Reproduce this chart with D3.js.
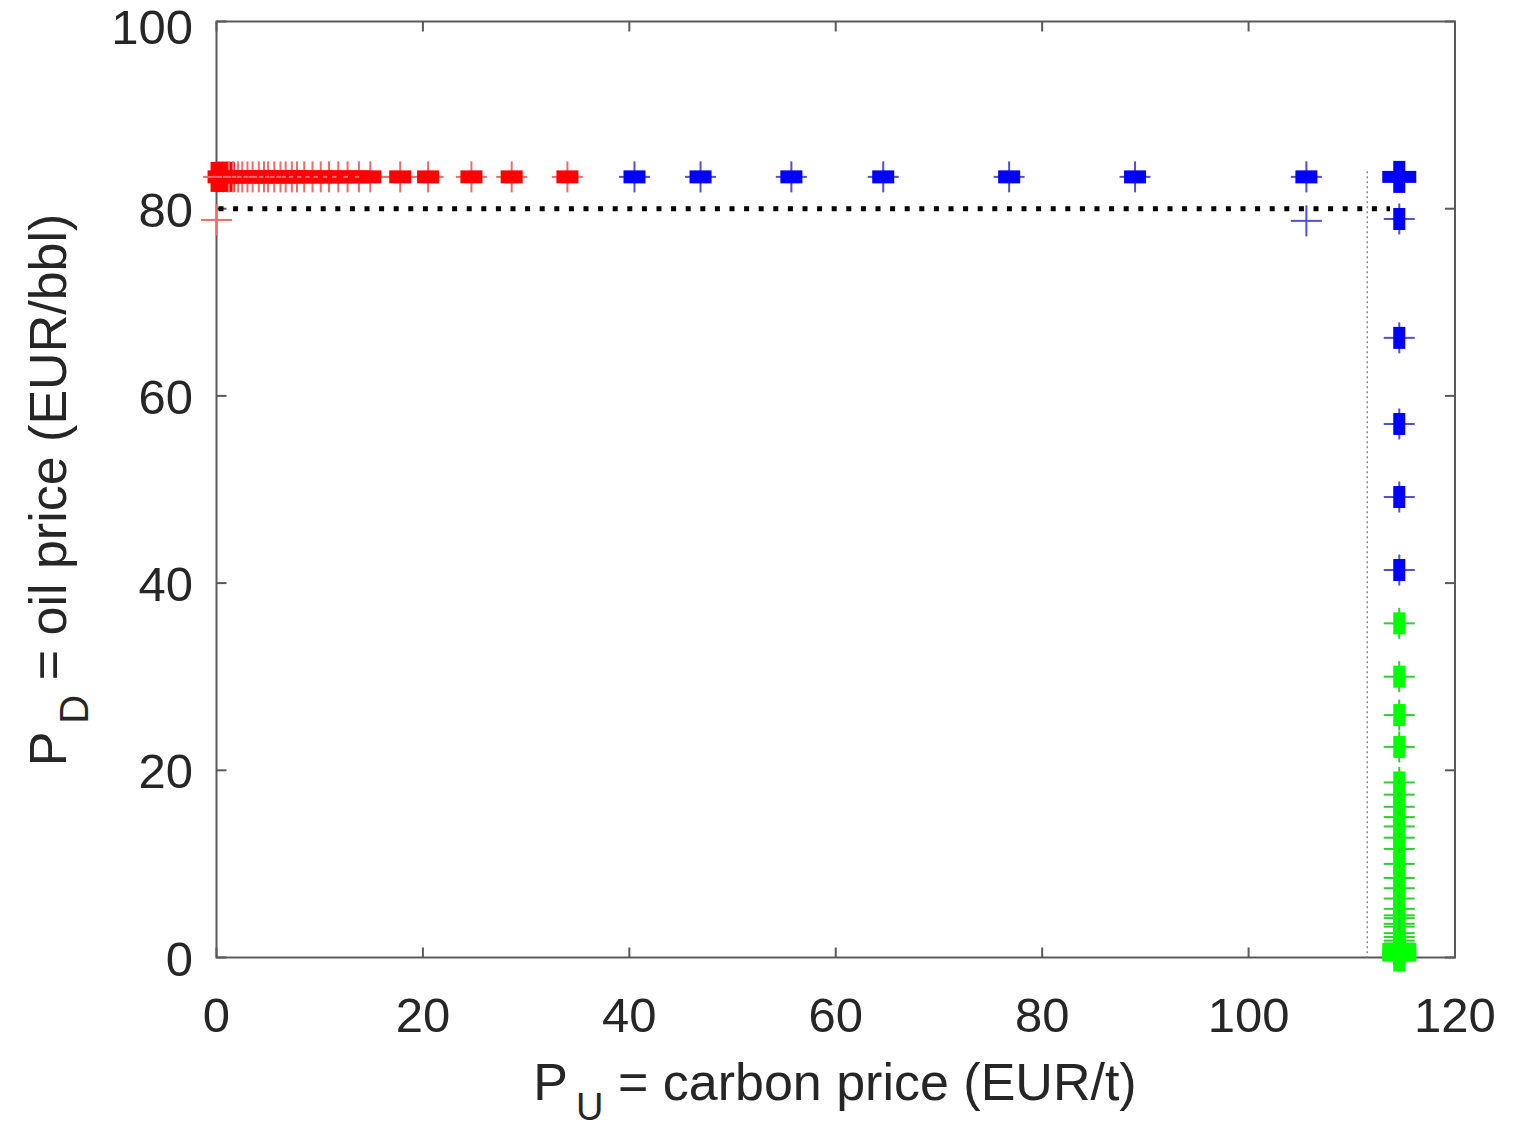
<!DOCTYPE html>
<html>
<head>
<meta charset="utf-8">
<script src="https://cdn.jsdelivr.net/npm/d3@7"></script>
<style>
  body { margin: 0; background: #fff; }
  text { font-family: "Liberation Sans", Arial, sans-serif; fill: #262626; }
</style>
</head>
<body>
<div id="chart"></div>
<script>
// red run along the top (y fixed), x values
var redY = 83.4
var redCluster = [0.2, 0.6, 1.0]
var redX = [1.2, 1.6, 2.1, 2.5, 3.0, 3.5, 4.1, 4.6, 5.0, 5.6, 6.2, 6.7, 7.3, 7.8, 8.5, 9.3, 10.1, 10.9, 11.8, 12.7, 13.8, 14.9, 17.8, 20.5, 24.7, 28.6, 34.0]
var redThin = [[0, 78.8]]

// blue run along the top then down the right side
var blueTopX = [40.5, 46.9, 55.7, 64.6, 76.8, 89.0, 105.6]
var blueColX = 114.6
var blueColY = [78.9, 66.2, 57.0, 49.2, 41.4]
var blueBig = [[114.6, 83.4]]
var blueThin = [[105.6, 78.7]]

// green run down the right side (x fixed), y values
var greenX = 114.6
var greenY = [35.7, 30.0, 25.9, 22.5, 18.7, 17.4, 16.1, 15.0, 14.0, 12.8, 11.6, 10.0, 8.5, 7.4, 6.3, 5.2, 4.5, 4.2, 3.6, 3.3, 2.6, 2.2, 1.8, 1.5, 1.1, 0.8, 0.5, 0.2]
var greenBig = [[114.6, 0.9], [114.6, 0.2]]

// reference lines
var oilRef = 80, oilRefEnd = 113.7
var carbonRef = 111.5, carbonRefTop = 84

var xTicks = [0, 20, 40, 60, 80, 100, 120]
var yTicks = [0, 20, 40, 60, 80, 100]

var width = 1521, height = 1133
var margin = {left: 216.5, right: 1455, top: 21.5, bottom: 957.5}

var svg = d3.select('#chart').append('svg')
  .attr('width', width).attr('height', height)

var x = d3.scaleLinear().domain([0, 120]).range([margin.left, margin.right])
var y = d3.scaleLinear().domain([0, 100]).range([margin.bottom, margin.top])

var colors = {red: '#ff0000', blue: '#0000ff', green: '#00ff00'}
var thinColors = {red: '#f06a6a', blue: '#5050d0', green: '#30cc30'}

// marker: thin plus + thick bar along the run direction
function plus(g, px, py, color, kind) {
  var c = colors[color], tc = thinColors[color]
  var arm = 15.5
  g.append('line').attr('x1', px - arm).attr('x2', px + arm).attr('y1', py).attr('y2', py)
    .attr('stroke', tc).attr('stroke-width', 2)
  g.append('line').attr('x1', px).attr('x2', px).attr('y1', py - arm).attr('y2', py + arm)
    .attr('stroke', tc).attr('stroke-width', 2)
  if (kind === 'h') {
    g.append('rect').attr('x', px - 11).attr('y', py - 6.5).attr('width', 22).attr('height', 13).attr('fill', c)
  } else if (kind === 'v') {
    g.append('rect').attr('x', px - 6).attr('y', py - 11).attr('width', 12).attr('height', 22).attr('fill', c)
  } else if (kind === 'cluster') {
    g.append('rect').attr('x', px - 8).attr('y', py - 15).attr('width', 16).attr('height', 30).attr('fill', c)
    g.append('rect').attr('x', px - 11).attr('y', py - 6.5).attr('width', 22).attr('height', 13).attr('fill', c)
  } else if (kind === 'big') {
    g.append('rect').attr('x', px - 17).attr('y', py - 6).attr('width', 34).attr('height', 12).attr('fill', c)
    g.append('rect').attr('x', px - 6).attr('y', py - 16).attr('width', 12).attr('height', 32).attr('fill', c)
  }
}

// axes box
var axisColor = '#5a5a5a'
svg.append('rect')
  .attr('x', margin.left).attr('y', margin.top)
  .attr('width', margin.right - margin.left).attr('height', margin.bottom - margin.top)
  .attr('fill', 'none').attr('stroke', axisColor).attr('stroke-width', 2)

var tickLen = 10
xTicks.forEach(t => {
  svg.append('line').attr('x1', x(t)).attr('x2', x(t)).attr('y1', margin.bottom).attr('y2', margin.bottom - tickLen)
    .attr('stroke', axisColor).attr('stroke-width', 2)
  svg.append('line').attr('x1', x(t)).attr('x2', x(t)).attr('y1', margin.top).attr('y2', margin.top + tickLen)
    .attr('stroke', axisColor).attr('stroke-width', 2)
  svg.append('text').attr('x', x(t)).attr('y', 1032).attr('text-anchor', 'middle')
    .style('font-size', '49px').text(t)
})
yTicks.forEach(t => {
  svg.append('text').attr('x', 193).attr('y', Math.max(y(t), 26) + 18).attr('text-anchor', 'end')
    .style('font-size', '49px').text(t)
  svg.append('line').attr('x1', margin.left).attr('x2', margin.left + tickLen).attr('y1', y(t)).attr('y2', y(t))
    .attr('stroke', axisColor).attr('stroke-width', 2)
  svg.append('line').attr('x1', margin.right).attr('x2', margin.right - tickLen).attr('y1', y(t)).attr('y2', y(t))
    .attr('stroke', axisColor).attr('stroke-width', 2)
})

// reference lines
svg.append('line')
  .attr('x1', x(carbonRef)).attr('x2', x(carbonRef)).attr('y1', y(carbonRefTop)).attr('y2', y(0))
  .attr('stroke', '#888').attr('stroke-width', 1.5).attr('stroke-dasharray', '2 3')
svg.append('line')
  .attr('x1', x(0) + 2).attr('x2', x(oilRefEnd)).attr('y1', y(oilRef)).attr('y2', y(oilRef))
  .attr('stroke', '#000').attr('stroke-width', 5).attr('stroke-dasharray', '5 9.6')

var g = svg.append('g')

redThin.forEach(d => plus(g, x(d[0]), y(d[1]), 'red', 'thin'))
blueThin.forEach(d => plus(g, x(d[0]), y(d[1]), 'blue', 'thin'))

redCluster.forEach(d => plus(g, x(d), y(redY), 'red', 'cluster'))
redX.forEach(d => plus(g, x(d), y(redY), 'red', 'h'))
blueTopX.forEach(d => plus(g, x(d), y(redY), 'blue', 'h'))
blueColY.forEach(d => plus(g, x(blueColX), y(d), 'blue', 'v'))
blueBig.forEach(d => plus(g, x(d[0]), y(d[1]), 'blue', 'big'))
greenY.forEach(d => plus(g, x(greenX), y(d), 'green', 'v'))
greenBig.forEach(d => plus(g, x(d[0]), y(d[1]), 'green', 'big'))

// axis titles
var xt = svg.append('text').attr('x', 835).attr('y', 1100).attr('text-anchor', 'middle').style('font-size', '52px')
xt.append('tspan').text('P')
xt.append('tspan').attr('dx', 8).attr('dy', 20).style('font-size', '38px').text('U')
xt.append('tspan').attr('dy', -20).text(' = carbon price (EUR/t)')

var yt = svg.append('text').attr('transform', 'translate(66,490) rotate(-90)').attr('text-anchor', 'middle').style('font-size', '52px')
yt.append('tspan').text('P')
yt.append('tspan').attr('dx', 8).attr('dy', 22).style('font-size', '40px').text('D')
yt.append('tspan').attr('dy', -22).text(' = oil price (EUR/bbl)')
</script>
</body>
</html>
